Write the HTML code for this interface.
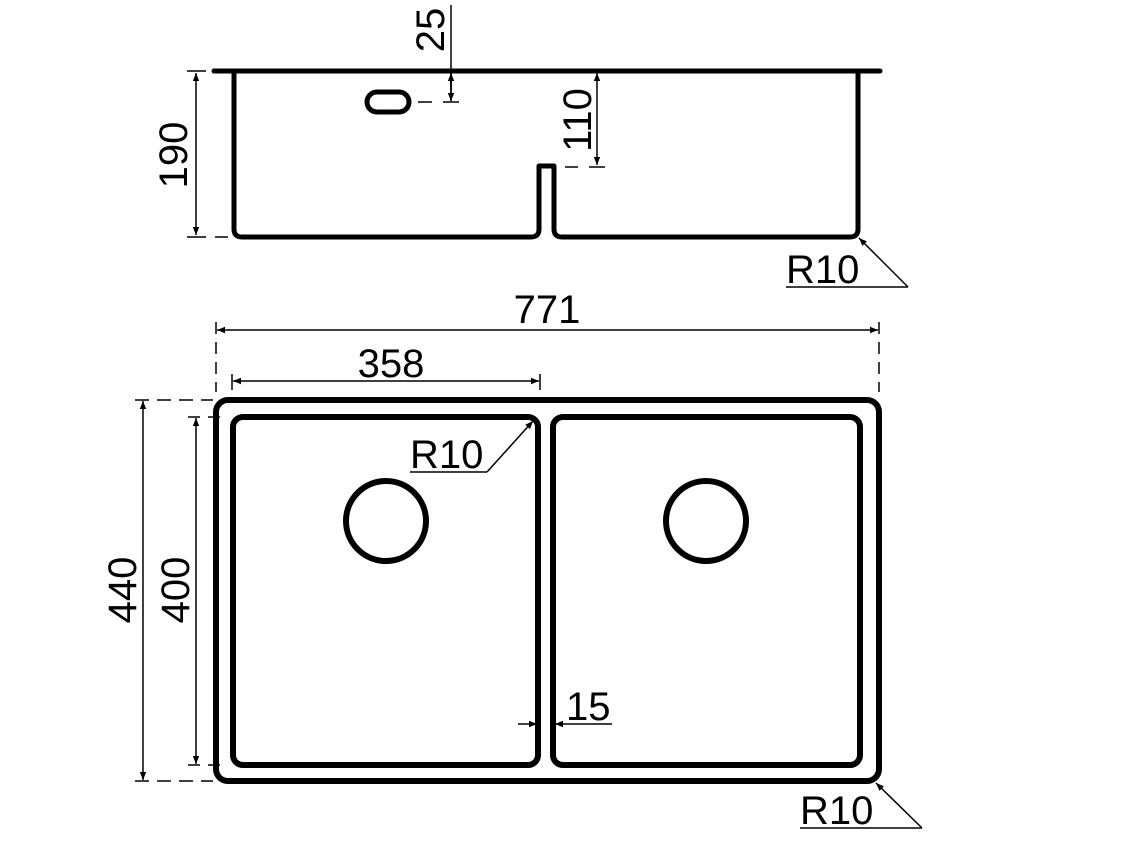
<!DOCTYPE html>
<html><head><style>body{margin:0;background:#fff}svg{display:block}text{font-family:"Liberation Sans",sans-serif;font-size:40px;fill:#000}</style></head><body>
<svg width="1129" height="864" viewBox="0 0 1129 864" xmlns="http://www.w3.org/2000/svg">
<defs><marker id="a" viewBox="0 0 10 10" refX="10" refY="5" markerWidth="12" markerHeight="8" markerUnits="userSpaceOnUse" orient="auto-start-reverse"><path d="M0,1 L10,5 L0,9 z" fill="#000"/></marker></defs>
<g fill="none" stroke="#000" stroke-linecap="round" stroke-linejoin="round">
<line x1="214" y1="71" x2="880" y2="71" stroke-width="5"/>
<path d="M234,72 V229 Q234,237 242,237 H531 Q539,237 539,229 V166 H554 V229 Q554,237 562,237 H850 Q858,237 858,229 V72" stroke-width="5"/>
<rect x="367" y="92" width="42" height="20" rx="10" stroke-width="5"/>
</g>
<g stroke="#000" stroke-width="1.5" fill="none">
<line x1="196" y1="73" x2="196" y2="235" marker-start="url(#a)" marker-end="url(#a)"/>
<line x1="187" y1="71" x2="206" y2="71"/><line x1="187" y1="237" x2="206" y2="237"/><line x1="215" y1="237" x2="228" y2="237"/>
<line x1="451" y1="5" x2="451" y2="101" /><line x1="451" y1="80" x2="451" y2="101" marker-end="url(#a)"/><line x1="451" y1="90" x2="451" y2="73" marker-end="url(#a)"/>
<line x1="443" y1="102" x2="459" y2="102"/><line x1="418" y1="102" x2="432" y2="102"/>
<line x1="597" y1="73" x2="597" y2="165" marker-start="url(#a)" marker-end="url(#a)"/>
<line x1="589" y1="167" x2="605" y2="167"/><line x1="565" y1="167" x2="578" y2="167"/>
<line x1="786" y1="287" x2="908" y2="287"/><line x1="908" y1="287" x2="859" y2="238" marker-end="url(#a)"/>
<line x1="217" y1="330" x2="878" y2="330" marker-start="url(#a)" marker-end="url(#a)"/>
<line x1="216" y1="322" x2="216" y2="392" stroke-dasharray="12,8"/><line x1="879" y1="322" x2="879" y2="392" stroke-dasharray="12,8"/>
<line x1="233" y1="381" x2="539" y2="381" marker-start="url(#a)" marker-end="url(#a)"/>
<line x1="232" y1="374" x2="232" y2="390"/><line x1="540" y1="374" x2="540" y2="390"/>
<line x1="143" y1="401" x2="143" y2="780" marker-start="url(#a)" marker-end="url(#a)"/>
<line x1="135" y1="400" x2="213" y2="400" stroke-dasharray="14,8"/><line x1="135" y1="781" x2="213" y2="781" stroke-dasharray="14,8"/>
<line x1="196" y1="418" x2="196" y2="764" marker-start="url(#a)" marker-end="url(#a)"/>
<line x1="188" y1="417" x2="228" y2="417" stroke-dasharray="12,8"/><line x1="188" y1="765" x2="228" y2="765" stroke-dasharray="12,8"/>
<line x1="518" y1="724" x2="537" y2="724" marker-end="url(#a)"/><line x1="612" y1="724" x2="555" y2="724" marker-end="url(#a)"/>
<line x1="410" y1="472" x2="487" y2="472"/><line x1="487" y1="472" x2="533" y2="421" marker-end="url(#a)"/>
<line x1="800" y1="828" x2="922" y2="828"/><line x1="922" y1="828" x2="876" y2="783" marker-end="url(#a)"/>
</g>
<g fill="none" stroke="#000" stroke-width="6">
<rect x="216" y="400" width="663" height="381" rx="12"/>
<rect x="233" y="417" width="305" height="348" rx="10"/>
<rect x="553" y="417" width="307" height="348" rx="10"/>
<circle cx="386" cy="521" r="40"/><circle cx="706" cy="521" r="40"/>
</g>
<text transform="translate(187,155) rotate(-90)" text-anchor="middle">190</text>
<text transform="translate(444,30) rotate(-90)" text-anchor="middle">25</text>
<text transform="translate(591,120) rotate(-90)" text-anchor="middle">110</text>
<text x="786" y="283">R10</text>
<text x="547" y="323" text-anchor="middle">771</text>
<text x="391" y="377" text-anchor="middle">358</text>
<text transform="translate(136,590) rotate(-90)" text-anchor="middle">440</text>
<text transform="translate(189,590) rotate(-90)" text-anchor="middle">400</text>
<text x="410" y="468">R10</text>
<text x="566" y="720">15</text>
<text x="800" y="824">R10</text>
</svg>
</body></html>
